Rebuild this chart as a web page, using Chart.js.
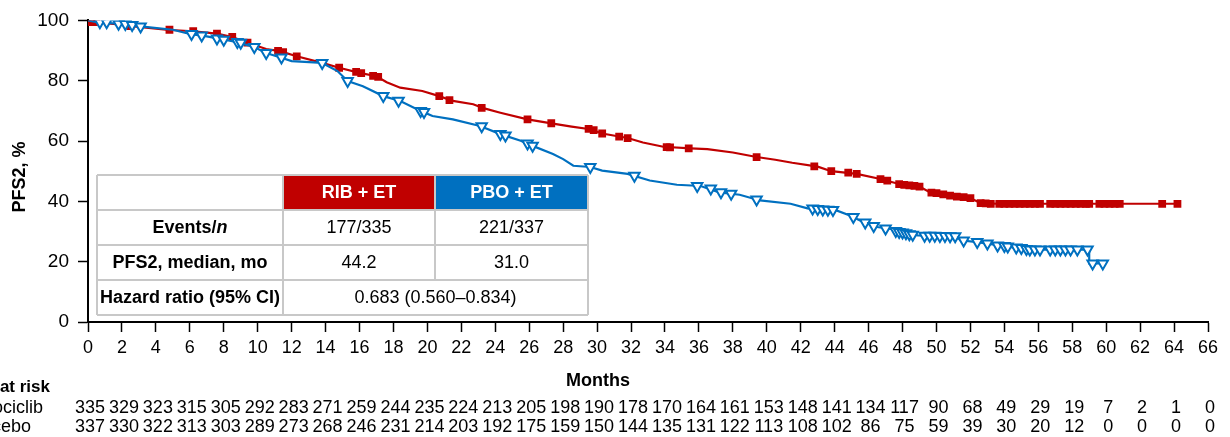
<!DOCTYPE html>
<html>
<head>
<meta charset="utf-8">
<script src="https://cdn.jsdelivr.net/npm/chart.js@4.4.1/dist/chart.umd.min.js"></script>
<style>
  html, body { margin: 0; padding: 0; background: #fff; }
  #wrap { width: 1230px; height: 437px; position: relative; }
</style>
</head>
<body>
<div id="wrap"><canvas id="km"></canvas></div>
<script>
const FONT = '"Liberation Sans", Arial, Helvetica, sans-serif';
const RED = '#C00000';
const BLUE = '#0070C0';

// PFS2 curves (months, %)
const ribT = [0, 0.3, 1.5, 2.7, 4.6, 6.2, 7.6, 8.5, 9.4, 10.5,
  11.3, 12.3, 13.8, 14.8, 16.0, 17.0, 17.6, 18.4, 19.7, 20.7,
  21.5, 22.7, 23.3, 24.3, 25.9, 27.4, 28.5, 29.6, 30.3, 31.8,
  32.7, 33.9, 35.5, 36.5, 38.0, 39.4, 40.5, 41.5, 43.0, 43.8,
  45.3, 46.7, 47.9, 49.0, 49.6, 50.8, 52.0, 52.6, 53.6, 64.3];
const ribS = [100, 99.4, 98.8, 98.0, 96.9, 96.4, 95.6, 94.5, 92.6, 90.5,
  89.8, 88.1, 85.9, 84.3, 82.6, 81.5, 79.5, 77.7, 76.6, 74.9,
  73.3, 72.2, 70.9, 69.4, 67.2, 65.8, 64.8, 63.9, 62.5, 61.0,
  59.5, 58.1, 57.6, 57.3, 56.2, 54.7, 53.8, 52.8, 51.5, 50.0,
  49.1, 47.4, 45.6, 44.9, 43.0, 41.9, 41.1, 39.4, 39.2, 39.2];

const pboT = [0, 0.5, 2.0, 3.1, 5.0, 6.0, 7.0, 8.5, 9.7, 10.5,
  11.3, 12.0, 13.8, 14.7, 15.3, 16.2, 17.4, 18.4, 19.6, 20.3,
  21.5, 23.1, 24.3, 25.5, 26.2, 27.4, 28.0, 28.6, 29.6, 30.3,
  31.8, 33.1, 34.7, 36.1, 37.2, 38.4, 39.6, 41.4, 42.4, 44.1,
  44.9, 45.7, 46.5, 47.3, 47.8, 48.9, 51.2, 51.4, 52.4, 53.7,
  54.3, 55.5, 59.0, 59.0, 59.8];
const pboS = [100, 99.4, 98.8, 98.0, 96.9, 95.5, 94.7, 93.1, 91.4, 89.2,
  87.8, 86.5, 85.9, 83.2, 79.9, 78.2, 74.9, 73.3, 70.0, 68.3,
  67.2, 65.0, 62.3, 60.1, 58.4, 55.7, 54.0, 51.8, 51.4, 50.2,
  49.1, 46.9, 45.5, 45.1, 43.0, 42.2, 40.3, 39.2, 37.7, 37.0,
  35.3, 33.1, 31.5, 30.9, 29.8, 28.7, 28.4, 27.1, 26.5, 25.4,
  24.9, 24.0, 24.0, 19.4, 19.4];

// censoring marks
const ribCensT = [0.2, 0.5, 2.5, 4.8, 6.2, 7.6, 8.5, 9.4, 11.2, 11.5,
  12.3, 14.8, 15.8, 16.1, 16.8, 17.1, 20.7, 21.3, 23.2, 25.9,
  27.3, 29.5, 29.8, 30.3, 31.3, 31.8, 34.1, 34.3, 35.4, 39.4,
  42.8, 43.8, 44.8, 45.3, 46.7, 47.1, 47.8, 48.1, 48.4, 48.7,
  49.0, 49.7, 50.0, 50.4, 50.8, 51.2, 51.6, 52.0, 52.6, 52.9,
  53.2, 53.7, 54.0, 54.3, 54.6, 54.9, 55.2, 55.5, 55.8, 56.1,
  56.7, 57.0, 57.3, 57.6, 57.9, 58.2, 58.5, 58.8, 59.0, 59.6,
  59.9, 60.2, 60.5, 60.8, 63.3, 64.2];
const ribCensS = [99.4, 99.4, 98.1, 96.9, 96.4, 95.6, 94.5, 92.6, 89.9, 89.5,
  88.1, 84.3, 82.9, 82.5, 81.6, 81.3, 74.9, 73.6, 71.0, 67.2,
  65.9, 64.0, 63.6, 62.5, 61.5, 61.0, 58.0, 57.9, 57.6, 54.7,
  51.6, 50.0, 49.5, 49.1, 47.4, 46.9, 45.7, 45.5, 45.3, 45.1,
  44.9, 42.9, 42.7, 42.3, 41.9, 41.6, 41.4, 41.1, 39.4, 39.3,
  39.2, 39.2, 39.2, 39.2, 39.2, 39.2, 39.2, 39.2, 39.2, 39.2,
  39.2, 39.2, 39.2, 39.2, 39.2, 39.2, 39.2, 39.2, 39.2, 39.2,
  39.2, 39.2, 39.2, 39.2, 39.2, 39.2];

const pboCensT = [0.7, 1.1, 1.8, 2.2, 2.6, 3.1, 6.1, 6.7, 7.6, 8.0,
  8.8, 9.0, 9.8, 10.5, 11.4, 13.8, 15.3, 17.4, 18.3, 19.6,
  19.8, 23.2, 24.3, 24.6, 25.9, 26.2, 29.6, 32.2, 35.9, 36.7,
  37.3, 37.9, 39.4, 42.7, 43.0, 43.3, 43.6, 43.9, 45.1, 45.8,
  46.3, 47.0, 47.6, 47.8, 48.0, 48.2, 48.4, 48.6, 49.3, 49.6,
  49.9, 50.2, 50.5, 50.8, 51.1, 51.6, 52.4, 53.0, 53.6, 54.0,
  54.2, 54.7, 55.0, 55.3, 55.5, 55.8, 56.1, 56.7, 57.0, 57.3,
  57.6, 57.9, 58.3, 58.9, 59.2, 59.8];
const pboCensS = [99.4, 99.4, 98.9, 98.8, 98.5, 98.0, 95.5, 95.0, 94.0, 93.6,
  92.8, 92.6, 91.2, 89.2, 87.7, 85.9, 79.9, 74.9, 73.4, 70.0,
  69.6, 64.9, 62.3, 61.8, 59.2, 58.4, 51.4, 48.5, 45.1, 44.3,
  43.0, 42.5, 40.6, 37.6, 37.5, 37.3, 37.2, 37.1, 34.8, 33.0,
  31.8, 31.0, 30.2, 29.8, 29.7, 29.4, 29.1, 28.9, 28.6, 28.6,
  28.6, 28.5, 28.5, 28.4, 28.4, 27.0, 26.5, 26.0, 25.4, 25.2,
  25.0, 24.7, 24.5, 24.2, 24.0, 24.0, 24.0, 24.0, 24.0, 24.0,
  24.0, 24.0, 24.0, 24.0, 19.4, 19.4];

// number at risk
const riskMonths = [0, 2, 4, 6, 8, 10, 12, 14, 16, 18, 20, 22, 24, 26, 28, 30, 32,
  34, 36, 38, 40, 42, 44, 46, 48, 50, 52, 54, 56, 58, 60, 62, 64, 66];
const riskRib = [335, 329, 323, 315, 305, 292, 283, 271, 259, 244, 235, 224, 213, 205, 198, 190, 178,
  170, 164, 161, 153, 148, 141, 134, 117, 90, 68, 49, 29, 19, 7, 2, 1, 0];
const riskPbo = [337, 330, 322, 313, 303, 289, 273, 268, 246, 231, 214, 203, 192, 175, 159, 150, 144,
  135, 131, 122, 113, 108, 102, 86, 75, 59, 39, 30, 20, 12, 0, 0, 0, 0];
const riskLabels = ['Ribociclib', 'Placebo'];

const tableHead = ['RIB + ET', 'PBO + ET'];
const tableRows = [
  ['Events/', '177/335', '221/337'],
  ['PFS2, median, mo', '44.2', '31.0'],
  ['Hazard ratio (95% CI)', '0.683 (0.560\u20130.834)']
];

const pts = (t, s) => t.map((x, i) => ({ x, y: s[i] }));

const overlay = {
  id: 'overlay',
  afterDatasetsDraw(chart) {
    const ctx = chart.ctx;
    const cols = [97, 283, 435, 588];
    const rows = [175, 210, 245, 280, 315];
    ctx.save();
    ctx.fillStyle = '#fff';
    ctx.fillRect(cols[0], rows[0], cols[3] - cols[0], rows[4] - rows[0]);
    ctx.fillStyle = RED;
    ctx.fillRect(cols[1], rows[0], cols[2] - cols[1], rows[1] - rows[0]);
    ctx.fillStyle = BLUE;
    ctx.fillRect(cols[2], rows[0], cols[3] - cols[2], rows[1] - rows[0]);

    ctx.strokeStyle = '#c8c8c8';
    ctx.lineWidth = 2;
    ctx.beginPath();
    rows.forEach(y => { ctx.moveTo(cols[0], y); ctx.lineTo(cols[3], y); });
    [cols[0], cols[1], cols[3]].forEach(x => { ctx.moveTo(x, rows[0]); ctx.lineTo(x, rows[4]); });
    ctx.moveTo(cols[2], rows[0]); ctx.lineTo(cols[2], rows[3]);
    ctx.stroke();

    ctx.textBaseline = 'middle';
    ctx.textAlign = 'center';
    const cy = i => (rows[i] + rows[i + 1]) / 2 + 1;
    const cx = i => (cols[i] + cols[i + 1]) / 2;

    ctx.fillStyle = '#fff';
    ctx.font = 'bold 18px ' + FONT;
    ctx.fillText(tableHead[0], cx(1), cy(0));
    ctx.fillText(tableHead[1], cx(2), cy(0));

    ctx.fillStyle = '#000';
    // Events/n with italic n
    const a = tableRows[0][0];
    ctx.font = 'bold 18px ' + FONT;
    const wa = ctx.measureText(a).width;
    ctx.font = 'italic bold 18px ' + FONT;
    const wn = ctx.measureText('n').width;
    const x0 = cx(0) - (wa + wn) / 2;
    ctx.textAlign = 'left';
    ctx.font = 'bold 18px ' + FONT;
    ctx.fillText(a, x0, cy(1));
    ctx.font = 'italic bold 18px ' + FONT;
    ctx.fillText('n', x0 + wa, cy(1));

    ctx.textAlign = 'center';
    ctx.font = 'bold 18px ' + FONT;
    ctx.fillText(tableRows[1][0], cx(0), cy(2));
    ctx.fillText(tableRows[2][0], cx(0), cy(3));

    ctx.font = '18px ' + FONT;
    ctx.fillText(tableRows[0][1], cx(1), cy(1));
    ctx.fillText(tableRows[0][2], cx(2), cy(1));
    ctx.fillText(tableRows[1][1], cx(1), cy(2));
    ctx.fillText(tableRows[1][2], cx(2), cy(2));
    ctx.fillText(tableRows[2][1], (cols[1] + cols[3]) / 2, cy(3));
    ctx.restore();
  },
  afterDraw(chart) {
    const ctx = chart.ctx;
    const xs = chart.scales.x;
    ctx.save();
    ctx.fillStyle = '#000';
    ctx.textBaseline = 'middle';

    // axis titles
    ctx.font = 'bold 18px ' + FONT;
    ctx.textAlign = 'center';
    ctx.fillText('Months', 598, 381);
    ctx.save();
    ctx.translate(20, 177);
    ctx.rotate(-Math.PI / 2);
    ctx.fillText('PFS2, %', 0, 0);
    ctx.restore();

    // at-risk table
    ctx.textAlign = 'right';
    ctx.font = 'bold 17px ' + FONT;
    ctx.fillText('Number at risk', 50, 387);
    ctx.font = '18px ' + FONT;
    ctx.fillText(riskLabels[0], 43, 408);
    ctx.fillText(riskLabels[1], 31, 427);
    ctx.textAlign = 'center';
    riskMonths.forEach((m, i) => {
      const px = xs.getPixelForValue(m) + 2;
      ctx.fillText(String(riskRib[i]), px, 408);
      ctx.fillText(String(riskPbo[i]), px, 427);
    });
    ctx.restore();
  }
};

new Chart(document.getElementById('km'), {
  data: {
    datasets: [
      {
        type: 'scatter', label: 'PBO censored', data: pts(pboCensT, pboCensS),
        pointStyle: 'triangle', rotation: 180, pointRadius: 6,
        backgroundColor: '#fff', borderColor: BLUE, borderWidth: 2, order: 1
      },
      {
        type: 'line', label: 'PBO + ET', data: pts(pboT, pboS),
        borderColor: BLUE, borderWidth: 2.2, pointRadius: 0, tension: 0, fill: false, order: 2
      },
      {
        type: 'scatter', label: 'RIB censored', data: pts(ribCensT, ribCensS),
        pointStyle: 'rect', pointRadius: 5.5,
        backgroundColor: RED, borderColor: RED, borderWidth: 0, order: 3
      },
      {
        type: 'line', label: 'RIB + ET', data: pts(ribT, ribS),
        borderColor: RED, borderWidth: 2.2, pointRadius: 0, tension: 0, fill: false, order: 4
      }
    ]
  },
  options: {
    responsive: true,
    maintainAspectRatio: false,
    animation: false,
    layout: { padding: { left: 0, right: 22, top: 19, bottom: 0 } },
    plugins: { legend: { display: false }, tooltip: { enabled: false } },
    scales: {
      x: {
        type: 'linear', min: 0, max: 66,
        afterFit: s => { s.height = 115; },
        border: { color: '#000', width: 2 },
        grid: { drawOnChartArea: false, tickLength: 10, tickColor: '#000', tickWidth: 1.5 },
        ticks: { stepSize: 2, autoSkip: false, maxRotation: 0, padding: 5, color: '#000', font: { family: FONT, size: 18 } }
      },
      y: {
        min: 0, max: 100,
        afterFit: s => { s.width = 88; },
        border: { color: '#000', width: 2 },
        grid: { drawOnChartArea: false, tickLength: 10, tickColor: '#000', tickWidth: 1.5 },
        ticks: { stepSize: 20, padding: 9, color: '#000', font: { family: FONT, size: 19 } }
      }
    }
  },
  plugins: [overlay]
});
</script>
</body>
</html>
